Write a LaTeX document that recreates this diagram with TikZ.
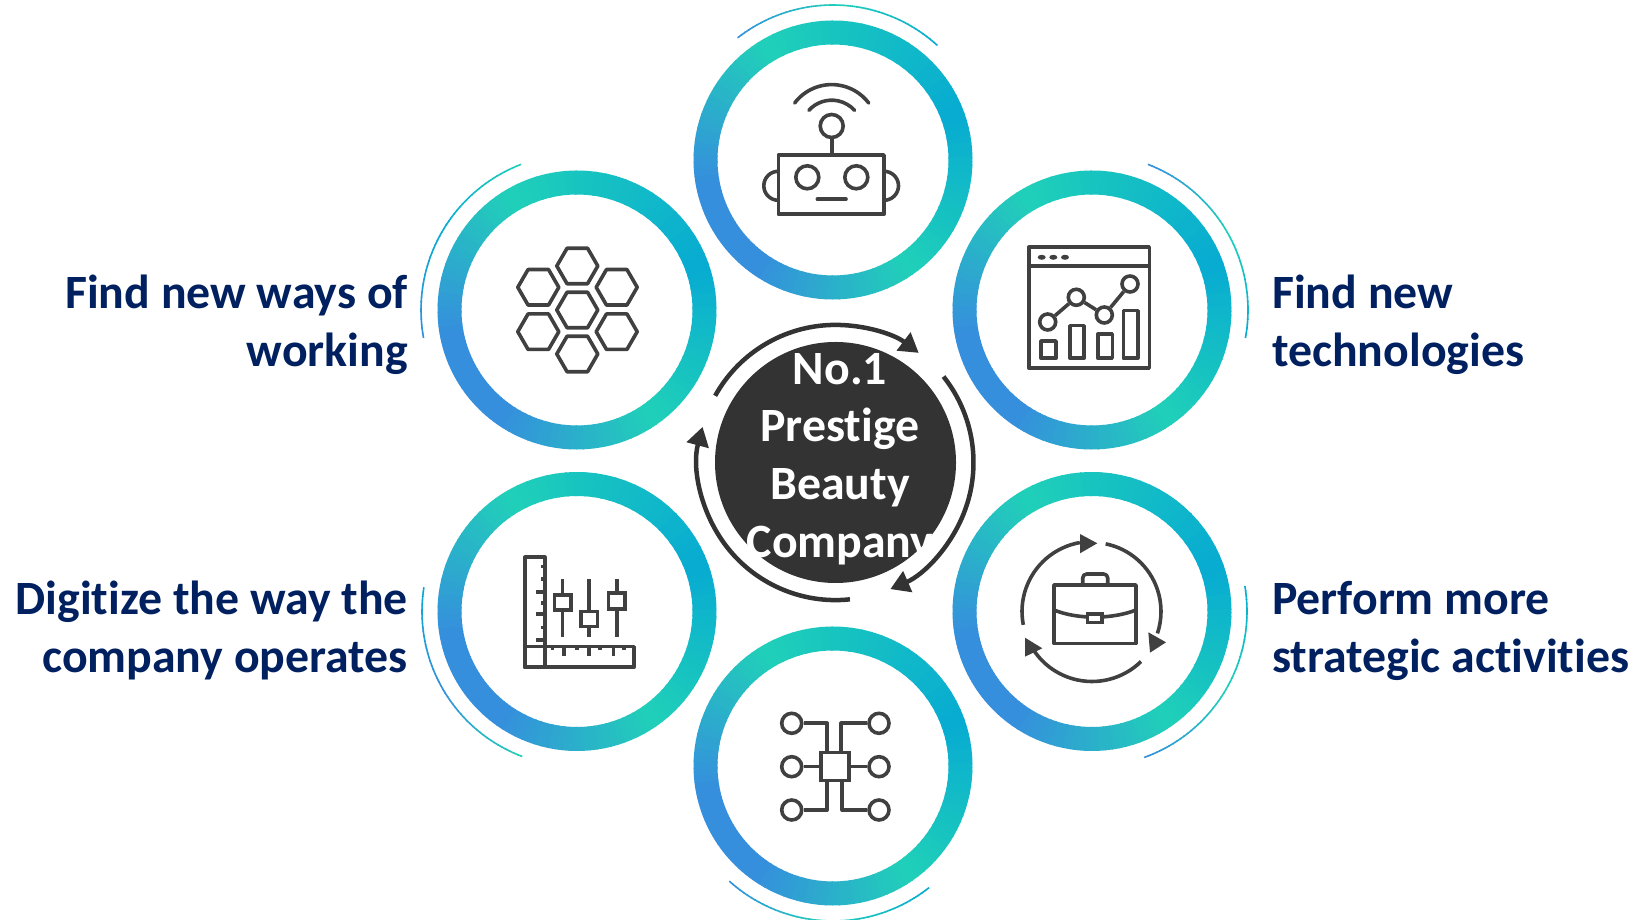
\documentclass[tikz,border=0pt]{standalone}
\usepackage{fontspec}
\setmainfont[Ligatures=NoCommon]{Carlito}
\usepackage{xcolor}
\usetikzlibrary{arrows.meta,calc,positioning}
\definecolor{ringgreen}{HTML}{20D0B8}
\definecolor{ringcyan}{HTML}{08ABD2}
\definecolor{ringblue}{HTML}{358FDD}
\definecolor{hubdark}{HTML}{333333}
\definecolor{icondark}{HTML}{404040}
\definecolor{labelnavy}{HTML}{002060}
\tikzset{
  spot/.style={circle, inner sep=0pt, minimum size=1pt},
  hubdisc/.style={circle, fill=hubdark, minimum size=241pt, inner sep=0pt},
  hubtext/.style={align=center, text=white, font=\fontsize{47.8}{57.6}\selectfont\bfseries},
  sidelabel/.style={text=labelnavy, font=\fontsize{47.8}{57.6}\selectfont\bfseries, inner sep=0pt},
  cyclearrow/.style={draw=hubdark, line width=4.5pt, -{Triangle[length=19pt,width=22pt]}},
  iconline/.style={draw=icondark, line width=3.6pt, line join=round},
  icondot/.style={circle, draw=icondark, line width=3.6pt, fill=white, inner sep=0pt, minimum size=#1},
  iconbox/.style={draw=icondark, line width=3.6pt, fill=white, inner sep=0pt}
}
% one arc cut in small parts, colour going from #6 to #7
\newcommand{\ringpart}[7]{%
  \foreach \k in {0,...,23} {
    \pgfmathsetmacro{\arcfrom}{#4+(#5-(#4))*\k/24}
    \pgfmathsetmacro{\arcto}{#4+(#5-(#4))*(\k+1.2)/24}
    \pgfmathsetmacro{\mixval}{100*(\k+0.5)/24}
    \draw[line width=#3, color=#7!\mixval!#6] (#1.center) ++(\arcfrom:#2)
      arc[start angle=\arcfrom, end angle=\arcto, radius=#2];
  }}
\newcommand{\gradring}[1]{%
  \ringpart{#1}{127.5}{24pt}{120}{20}{ringgreen}{ringcyan}
  \ringpart{#1}{127.5}{24pt}{20}{-55}{ringcyan}{ringgreen}
  \ringpart{#1}{127.5}{24pt}{-55}{-125}{ringgreen}{ringblue}
  \ringpart{#1}{127.5}{24pt}{-125}{-170}{ringblue}{ringblue}
  \ringpart{#1}{127.5}{24pt}{-170}{-240}{ringblue}{ringgreen}}
\begin{document}
\begin{tikzpicture}[x=1pt,y=1pt]
\useasboundingbox (0,0) rectangle (1637,920);
% centres of the six rings
\node[spot] (robot) at (833,760) {};
\node[spot] (chart) at (1092,610) {};
\node[spot] (case) at (1092,308.5) {};
\node[spot] (hexa) at (577,610) {};
\node[spot] (ruler) at (577,308.5) {};
\node[spot] (chip) at (833,154) {};
\gradring{robot}
\gradring{chart}
\gradring{case}
\gradring{hexa}
\gradring{ruler}
\gradring{chip}
% thin outer arcs
\ringpart{robot}{155}{1.6pt}{128}{88}{ringblue}{ringgreen}
\ringpart{robot}{155}{1.6pt}{88}{48}{ringgreen}{ringcyan}
\ringpart{chart}{156}{1.6pt}{69}{30}{ringblue}{ringgreen}
\ringpart{chart}{156}{1.6pt}{30}{-10}{ringgreen}{ringcyan}
\ringpart{case}{155}{1.6pt}{9.5}{-30}{ringcyan}{ringgreen}
\ringpart{case}{155}{1.6pt}{-30}{-70}{ringgreen}{ringblue}
\ringpart{hexa}{156}{1.6pt}{111}{150}{ringgreen}{ringcyan}
\ringpart{hexa}{156}{1.6pt}{150}{190}{ringcyan}{ringblue}
\ringpart{ruler}{155}{1.6pt}{171}{210}{ringcyan}{ringblue}
\ringpart{ruler}{155}{1.6pt}{210}{249}{ringblue}{ringgreen}
\ringpart{chip}{155}{1.6pt}{228}{268}{ringblue}{ringgreen}
\ringpart{chip}{155}{1.6pt}{268}{308}{ringgreen}{ringcyan}
% middle
\node[hubdisc] (hub) at (835.5,457.5) {};
\node[hubtext] (title) at (840,461) {No.1\\Prestige\\Beauty\\Company};
\draw[cyclearrow] (hub.center) ++(151:137.6) arc[start angle=151, end angle=52.8, radius=137.6];
\draw[cyclearrow] (hub.center) ++(38.5:138) arc[start angle=38.5, end angle=-66.6, radius=138];
\draw[cyclearrow] (hub.center) ++(276:137.6) arc[start angle=276, end angle=165, radius=137.6];
% labels
\node[sidelabel, anchor=base east] (ways1) at (408,611.5) {Find new ways of};
\node[sidelabel, below=57.6pt of ways1.base east, anchor=base east] (ways2) {working};
\node[sidelabel, anchor=base west] (tech1) at (1272,611.5) {Find new};
\node[sidelabel, below=57.6pt of tech1.base west, anchor=base west] (tech2) {technologies};
\node[sidelabel, anchor=base east] (digi1) at (408,305) {Digitize the way the};
\node[sidelabel, below=57.6pt of digi1.base east, anchor=base east] (digi2) {company operates};
\node[sidelabel, anchor=base west] (perf1) at (1272,305) {Perform more};
\node[sidelabel, below=57.6pt of perf1.base west, anchor=base west] (perf2) {strategic activities};
% robot
\begin{scope}[shift={(robot.center)}]
\draw[iconline] (-54.7,-54.3) rectangle (51,5);
\node[icondot=23pt] (aerial) at (-1.3,34) {};
\draw[iconline] (aerial.south) -- (-1.3,5);
\draw[iconline, line cap=round] (-1.3,29) ++(143:46.4) arc[start angle=143, end angle=37, radius=46.4];
\draw[iconline, line cap=round] (-1.3,29) ++(138:30.8) arc[start angle=138, end angle=42, radius=30.8];
\node[icondot=23pt] (eyeL) at (-25.7,-17.3) {};
\node[icondot=23pt] (eyeR) at (23.3,-17.3) {};
\draw[iconline, line cap=round] (-15.7,-39.3) -- (13,-39.3);
\draw[iconline] (-54.7,-11.3) arc[start angle=90, end angle=270, radius=14.5];
\draw[iconline] (51,-11.3) arc[start angle=90, end angle=-90, radius=14.5];
\end{scope}
% chart
\begin{scope}[shift={(chart.center)}]
\draw[iconline] (-63,-58.3) rectangle (57.3,62.7);
\draw[iconline] (-63,44) -- (57.3,44);
\foreach \dx in {-50.3,-38.7,-27} \fill[icondark] (\dx,52.7) ellipse (4 and 2.5);
\node[icondot=16pt] (pt1) at (-44.3,-12) {};
\node[icondot=16pt] (pt2) at (-15.7,12.7) {};
\node[icondot=16pt] (pt3) at (12.3,-5) {};
\node[icondot=16pt] (pt4) at (38,26) {};
\draw[iconline] (pt1) -- (pt2);
\draw[iconline] (pt2) -- (pt3);
\draw[iconline] (pt3) -- (pt4);
\draw[iconline] (-51,-48.3) rectangle (-36,-31);
\draw[iconline] (-22,-48.3) rectangle (-8,-15.7);
\draw[iconline] (5.7,-48.3) rectangle (20.3,-24.3);
\draw[iconline] (31.3,-48.3) rectangle (45.7,-0.7);
\end{scope}
% briefcase
\begin{scope}[shift={(case.center)}]
\draw[iconline] (-38,-32) rectangle (44,26.5);
\draw[iconline, rounded corners=4pt] (-9.3,26.5) -- (-9.3,37.5) -- (15.7,37.5) -- (15.7,26.5);
\draw[iconline] (-38,1.5) .. controls (-15,-8) and (20,-8) .. (44,1.5);
\draw[iconbox] (-4.7,-11.2) rectangle (9.7,-2.5);
\draw[iconline] (0,0) ++(191:70) arc[start angle=191, end angle=100, radius=70];
\fill[icondark] (-12,77.5) -- (5.3,68.2) -- (-12,58.2) -- cycle;
\draw[iconline] (0,0) ++(78.6:69) arc[start angle=78.6, end angle=-18.5, radius=69];
\fill[icondark] (56.3,-20.8) -- (74,-30.8) -- (58,-41.2) -- cycle;
\draw[iconline] (0,0) ++(-45.6:70) arc[start angle=-45.6, end angle=-149.2, radius=70];
\fill[icondark] (-67,-26.2) -- (-49.7,-36.8) -- (-67,-45.2) -- cycle;
\end{scope}
% hexagons
\begin{scope}[shift={(hexa.center)}]
\foreach \hx/\hy in {0.3/44,-38.7/22.7,39.7/22.7,0.3/0,-38.7/-21.7,39.7/-21.7,0.3/-44}
  \draw[iconline] (\hx,\hy) +(0:20.5) -- +(60:20.5) -- +(120:20.5) -- +(180:20.5) -- +(240:20.5) -- +(300:20.5) -- cycle;
\end{scope}
% ruler and sliders
\begin{scope}[shift={(ruler.center)}]
\draw[iconline] (-52,-55.8) rectangle (-32,54.2);
\draw[iconline] (-52,-55.8) rectangle (57,-35.2);
\draw[iconline] (-32,-55.8) -- (-32,-35.2);
\foreach \ty/\tl in {44.8/-36,32.5/-36,19.2/-41,8.2/-36,-2.8/-41,-16.2/-36,-28.5/-41}
  \draw[iconline] (-32,\ty) -- (\tl,\ty);
\foreach \tx/\tl in {-24.7/-39,-13/-45,-0.3/-39,12/-45,23/-39,36.3/-45,47/-39}
  \draw[iconline] (\tx,-35.2) -- (\tx,\tl);
\foreach \sx in {-14.7,12,39.7} \draw[iconline] (\sx,32.2) -- (\sx,-25.2);
\draw[iconbox] (-22.7,1.5) rectangle (-6.3,16.5);
\draw[iconbox] (4,-15.2) rectangle (20.3,-0.2);
\draw[iconbox] (31.3,2.5) rectangle (48,18.2);
\end{scope}
% chip
\begin{scope}[shift={(chip.center)}]
\node[iconbox, minimum size=28pt] (core) at (2.2,-0.5) {};
\node[icondot=20pt] (pinA) at (-41.3,42.7) {};
\node[icondot=20pt] (pinB) at (46,42.7) {};
\node[icondot=20pt] (pinC) at (-41.3,-0.7) {};
\node[icondot=20pt] (pinD) at (46,-0.7) {};
\node[icondot=20pt] (pinE) at (-41.3,-44) {};
\node[icondot=20pt] (pinF) at (46,-44) {};
\draw[iconline] (pinA.east) -| ([xshift=-8pt]core.north);
\draw[iconline] (pinB.west) -| ([xshift=6pt]core.north);
\draw[iconline] (pinC.east) -- (pinC.east -| core.west);
\draw[iconline] (pinD.west) -- (pinD.west -| core.east);
\draw[iconline] (pinE.east) -| ([xshift=-8pt]core.south);
\draw[iconline] (pinF.west) -| ([xshift=7pt]core.south);
\end{scope}
\end{tikzpicture}
\end{document}
